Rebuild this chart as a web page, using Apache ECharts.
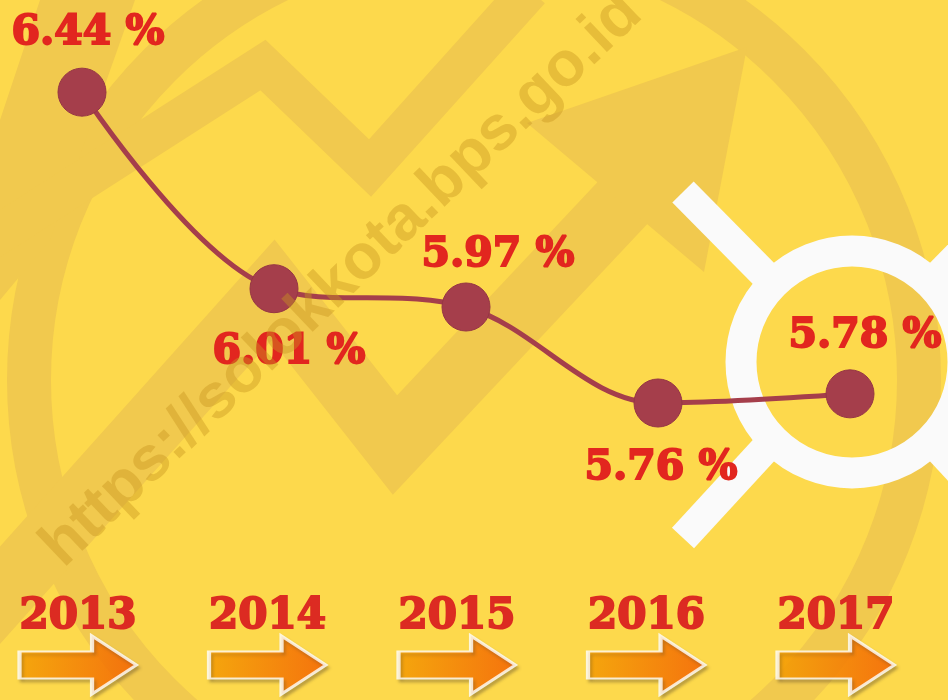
<!DOCTYPE html>
<html>
<head>
<meta charset="utf-8">
<script src="https://cdn.jsdelivr.net/npm/echarts@6/dist/echarts.min.js"></script>
<style>
  html, body { margin: 0; padding: 0; background: #fdd94c; }
  #chart { width: 948px; height: 700px; }
</style>
</head>
<body>
<div id="chart"></div>
<script>
const years = ['2013', '2014', '2015', '2016', '2017']
const rates = [6.44, 6.01, 5.97, 5.76, 5.78]

// label offsets from each point centre (px)
const LABEL_OFFSETS = [[6, -59], [15, 64], [32, -52], [3, 65], [15, -58]]

const BG = '#fdd94c'
const BAND = '#f1c94e'
const LINE_COLOR = '#a53e4b'
const TEXT_RED = '#e2261f'
const FONT = "'DejaVu Serif', 'Liberation Serif', serif"

function background() {
  const s = 852, t = 362
  return [
    { type: 'rect', z: -20, shape: { x: 0, y: 0, width: 948, height: 700 }, style: { fill: BG } },
    // big circular band
    { type: 'circle', z: -19, shape: { cx: 474, cy: 380, r: 445 }, style: { fill: null, stroke: BAND, lineWidth: 44 } },
    { type: 'polygon', z: -19, shape: { points: [[40, 0], [135, 0], [50, 240], [0, 300], [0, 120]] }, style: { fill: BAND } },
    // zigzag arrows
    { type: 'polyline', z: -19, shape: { points: [[-10, 240], [263, 65], [370, 168], [530, -10]] }, style: { stroke: BAND, lineWidth: 40, fill: null, lineJoin: 'miter' } },
    { type: 'polyline', z: -19, shape: { points: [[-40, 640], [273, 290], [395, 445], [630, 195]] }, style: { stroke: BAND, lineWidth: 65, fill: null, lineJoin: 'miter' } },
    { type: 'polygon', z: -19, shape: { points: [[747, 47], [527, 123], [704, 272]] }, style: { fill: BAND } },
    // white crosshair
    { type: 'circle', z: -18, shape: { cx: s, cy: t, r: 111 }, style: { fill: null, stroke: '#fafafa', lineWidth: 31 } },
    { type: 'line', z: -18, shape: { x1: s - 169, y1: t - 170, x2: s - 88, y2: t - 88 }, style: { stroke: '#fafafa', lineWidth: 30 } },
    { type: 'line', z: -18, shape: { x1: s - 169, y1: t + 176, x2: s - 88, y2: t + 88 }, style: { stroke: '#fafafa', lineWidth: 30 } },
    { type: 'line', z: -18, shape: { x1: s + 169, y1: t - 170, x2: s + 88, y2: t - 88 }, style: { stroke: '#fafafa', lineWidth: 30 } },
    { type: 'line', z: -18, shape: { x1: s + 169, y1: t + 176, x2: s + 88, y2: t + 88 }, style: { stroke: '#fafafa', lineWidth: 30 } },
    // watermark
    {
      type: 'text', z: 100, x: 342, y: 280, rotation: 0.76,
      style: {
        text: 'https://solokkota.bps.go.id',
        fill: 'rgba(200,150,30,0.42)',
        font: "bold 63px 'Liberation Sans', Arial, sans-serif",
        textAlign: 'center', textVerticalAlign: 'middle'
      }
    }
  ]
}

function buildOption() {
  return {
    animation: false,
    backgroundColor: BG,
    graphic: background(),
    grid: [
      { left: 82, right: 98, top: 19, bottom: 41 },
      { left: 78, right: 112, top: 640, bottom: 10 }
    ],
    xAxis: [
      { type: 'category', data: years, boundaryGap: false, show: false, gridIndex: 0 },
      {
        type: 'category', data: years, boundaryGap: false, gridIndex: 1, position: 'top',
        axisLine: { show: false }, axisTick: { show: false },
        axisLabel: {
          margin: 2, fontFamily: FONT, fontWeight: 'bold', fontSize: 42, color: '#dc2b22',
          textBorderColor: '#dc2b22', textBorderWidth: 2
        }
      }
    ],
    yAxis: [
      { type: 'value', min: 5.2, max: 6.6, show: false, gridIndex: 0 },
      { type: 'value', min: 0, max: 1, show: false, gridIndex: 1 }
    ],
    series: [
      {
        type: 'line',
        xAxisIndex: 0, yAxisIndex: 0,
        data: rates.map((v, i) => ({ value: v, label: { offset: LABEL_OFFSETS[i] } })),
        smooth: 0.35,
        symbol: 'circle',
        symbolSize: 48,
        lineStyle: { color: LINE_COLOR, width: 5 },
        itemStyle: { color: LINE_COLOR, borderColor: '#963644', borderWidth: 1 },
        label: {
          show: true,
          position: 'inside',
          formatter: p => p.value.toFixed(2) + ' %',
          fontFamily: FONT,
          fontWeight: 'bold',
          fontSize: 41,
          color: TEXT_RED,
          textBorderColor: TEXT_RED,
          textBorderWidth: 2
        },
        z: 5
      },
      {
        type: 'scatter',
        xAxisIndex: 1, yAxisIndex: 1,
        data: years.map(y => [y, 0.5]),
        symbol: 'path://M0,16 L62,16 L62,0 L100,30 L62,60 L62,44 L0,44 Z',
        symbolSize: [117, 58],
        itemStyle: {
          color: new echarts.graphic.LinearGradient(0, 0, 1, 0, [
            { offset: 0, color: '#ffa500' },
            { offset: 1, color: '#ff6400' }
          ]),
          borderColor: '#ffffff',
          borderWidth: 3,
          shadowColor: 'rgba(80,60,40,0.35)',
          shadowOffsetX: 2,
          shadowOffsetY: 3,
          shadowBlur: 3
        },
        z: 3
      }
    ]
  }
}

const chart = echarts.init(document.getElementById('chart'))
chart.setOption(buildOption())
window.addEventListener('resize', () => chart.resize())
</script>
</body>
</html>
